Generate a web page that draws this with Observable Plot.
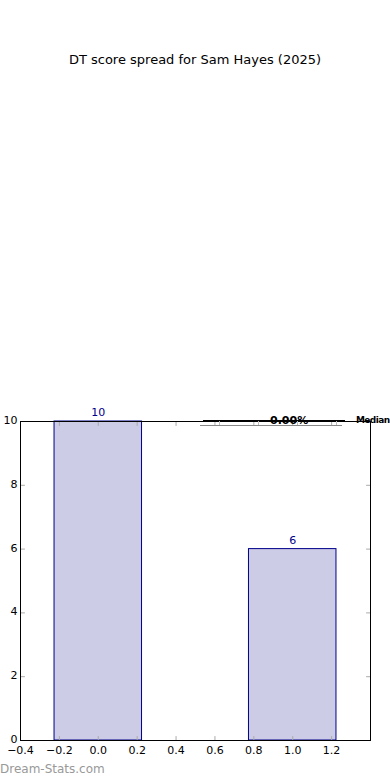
<!DOCTYPE html>
<html>
<head>
<meta charset="utf-8">
<script src="https://cdn.jsdelivr.net/npm/d3@7"></script>
<script src="https://cdn.jsdelivr.net/npm/@observablehq/plot@0.6"></script>
<style>
  html, body { margin: 0; padding: 0; background: #fff; }
  #wrap { position: relative; width: 390px; height: 780px; overflow: hidden; font-family: "DejaVu Sans", sans-serif; }
  #title { position: absolute; top: 52px; left: 0; width: 390px; text-align: center; font-size: 13px; color: #000; }
  #mark { position: absolute; left: 0; top: 762px; font-size: 12px; color: #999; }
  #chart { position: absolute; left: 0; top: 0; }
  .tbl { position: absolute; line-height: 11px; color: #000; white-space: nowrap; }
</style>
</head>
<body>
<div id="wrap">
  <div id="chart"></div>
  <div id="title"></div>
  <div id="tblwrap"></div>
  <div id="mark"></div>
</div>
<script>
const titleText = "DT score spread for Sam Hayes (2025)";
const watermark = "Dream-Stats.com";
const scores = [0, 1];
const counts = [10, 6];
const xTicks = [-0.4, -0.2, 0.0, 0.2, 0.4, 0.6, 0.8, 1.0, 1.2];
const yTicks = [0, 2, 4, 6, 8, 10];
const tableValue = "0.00%";
const tableLabel = "Median";

const data = scores.map((s, i) => ({score: s, count: counts[i]}));
const barHalf = 0.225;
const xDomain = [-0.4, 1.4];
const yDomain = [0, 10];

const tick = {draw(context, l) { context.moveTo(0, 0); context.lineTo(0, -l); }};
const tickStyle = {length: 4, anchor: "start", shape: tick, stroke: "#aaa", strokeWidth: 1};

const chart = Plot.plot({
  width: 390,
  height: 780,
  marginTop: 421,
  marginBottom: 40,
  marginLeft: 20,
  marginRight: 20,
  style: {fontFamily: "DejaVu Sans", fontSize: "11px", background: "transparent", overflow: "visible"},
  x: {domain: xDomain},
  y: {domain: yDomain},
  marks: [
    Plot.rect(data, {x1: d => d.score - barHalf, x2: d => d.score + barHalf, y1: 0, y2: "count", fill: "#ccccе6".replace("е","e"), stroke: "#00008b", strokeWidth: 1}),
    Plot.vector(xTicks, {x: d => d, y: yDomain[0], rotate: 0, ...tickStyle}),
    Plot.vector(xTicks, {x: d => d, y: yDomain[1], rotate: 180, ...tickStyle}),
    Plot.vector(yTicks, {y: d => d, x: xDomain[0], rotate: 90, ...tickStyle}),
    Plot.vector(yTicks, {y: d => d, x: xDomain[1], rotate: 270, ...tickStyle}),
    Plot.frame({stroke: "#000", strokeWidth: 1}),
    Plot.text(data, {x: "score", y: "count", text: d => String(d.count), dy: -9, fill: "#00008b", fontSize: 11}),
    Plot.axisX(xTicks, {tickSize: 0, tickPadding: 6, tickFormat: d3.format(".1f"), label: null, fill: "#000", fontSize: 11}),
    Plot.axisY(yTicks, {tickSize: 0, tickPadding: 3, tickFormat: d => String(d), label: null, fill: "#000", fontSize: 11, dy: -1})
  ]
});
document.getElementById("chart").appendChild(chart);
document.getElementById("title").textContent = titleText;
document.getElementById("mark").textContent = watermark;

// collapsed stats table drawn over the top-right corner
const tw = document.getElementById("tblwrap");
const add = (html) => { tw.insertAdjacentHTML("beforeend", html); };
add('<div style="position:absolute;left:203px;top:420px;width:142px;height:1px;background:#000"></div>');
add('<div style="position:absolute;left:200px;top:425px;width:142px;height:1px;background:#888"></div>');
[219, 258, 297, 336].forEach(x => add(`<div style="position:absolute;left:${x}px;top:421px;width:1px;height:4px;background:#bbb"></div>`));
add(`<div class="tbl" style="left:270px;top:415px;font-size:11px;font-weight:600">${tableValue}</div>`);
add(`<div class="tbl" style="left:356px;top:415px;font-size:9px;font-weight:bold;letter-spacing:-0.6px">${tableLabel}</div>`);
</script>
</body>
</html>
